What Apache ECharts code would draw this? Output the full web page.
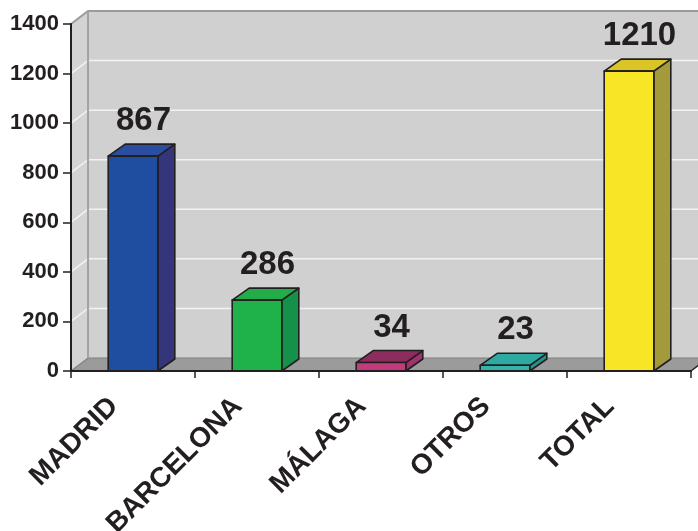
<!DOCTYPE html>
<html>
<head>
<meta charset="utf-8">
<script src="https://cdn.jsdelivr.net/npm/echarts@6/dist/echarts.min.js"></script>
<style>
html,body{margin:0;padding:0;background:#fff;}
#chart{width:698px;height:531px;}
</style>
</head>
<body>
<div id="chart"></div>
<script>
const categories = ['MADRID', 'BARCELONA', 'MÁLAGA', 'OTROS', 'TOTAL'];
const values = [867, 286, 34, 23, 1210];
const yTicks = [0, 200, 400, 600, 800, 1000, 1200, 1400];

const frontColors = ['#1f4d9f', '#1fb24b', '#c23b7c', '#35b3ab', '#f7e526'];
const topColors   = ['#2b4ea0', '#22ad48', '#8d2d5d', '#2eaaa2', '#d9c626'];
const sideColors  = ['#34357a', '#15924a', '#a0336a', '#23958d', '#a39a3c'];

const DX = 17, DY = -12, WDY = -13;
const FONT = '"Liberation Sans", Arial, Helvetica, sans-serif';
const INK = '#231f20';

const chart = echarts.init(document.getElementById('chart'));

function renderWalls(params, api) {
  const cs = params.coordSys;
  const x0 = cs.x, x1 = cs.x + cs.width;
  const yB = api.coord([0, yTicks[0]])[1];
  const yT = api.coord([0, yTicks[yTicks.length - 1]])[1];
  const children = [];
  children.push({type: 'rect', shape: {x: x0 + DX, y: yT + WDY, width: cs.width + 40, height: yB - yT},
    style: {fill: '#d0d0d0'}});
  children.push({type: 'polygon', shape: {points: [[x0, yB], [x0, yT], [x0 + DX, yT + WDY], [x0 + DX, yB + WDY]]},
    style: {fill: '#d3d3d3'}});
  for (let k = 1; k < yTicks.length - 1; k++) {
    const y = api.coord([0, yTicks[k]])[1];
    children.push({type: 'polyline', shape: {points: [[x0, y], [x0 + DX, y + WDY], [x1 + 60, y + WDY]]},
      style: {stroke: '#f2f2f2', lineWidth: 1.5, fill: null}});
  }
  children.push({type: 'polygon', shape: {points: [[x0, yB], [x1, yB], [x1 + DX, yB + WDY], [x0 + DX, yB + WDY]]},
    style: {fill: '#9b9b9b'}});
  children.push({type: 'polyline', shape: {points: [[x0, yB], [x0 + DX, yB + WDY], [x1 + 60, yB + WDY]]},
    style: {stroke: '#808080', lineWidth: 1.2, fill: null}});
  children.push({type: 'polyline', shape: {points: [[x0, yT], [x0 + DX, yT + WDY], [x1 + 60, yT + WDY]]},
    style: {stroke: '#9a9a9a', lineWidth: 2, fill: null}});
  children.push({type: 'line', shape: {x1: x0 + DX, y1: yT + WDY, x2: x0 + DX, y2: yB + WDY},
    style: {stroke: '#a3a3a3', lineWidth: 2}});
  children.push({type: 'line', shape: {x1: x1, y1: yB, x2: x1 + DX, y2: yB + WDY},
    style: {stroke: INK, lineWidth: 1.5}});
  return {type: 'group', children: children};
}

function renderBar(params, api) {
  const i = api.value(0), v = api.value(1);
  const top = api.coord([i, v]);
  const base = api.coord([i, 0]);
  const bw = api.size([1, 0])[0] * 0.4;
  const l = top[0] - bw / 2, r = top[0] + bw / 2;
  const t = top[1], b = base[1];
  const idx = params.dataIndex;
  const stroke = {stroke: INK, lineWidth: 1.6, lineJoin: 'round'};
  return {
    type: 'group',
    children: [
      {type: 'polygon', shape: {points: [[r, t], [r + DX, t + DY], [r + DX, b + DY], [r, b]]},
        style: Object.assign({fill: sideColors[idx]}, stroke)},
      {type: 'polygon', shape: {points: [[l, t], [r, t], [r + DX, t + DY], [l + DX, t + DY]]},
        style: Object.assign({fill: topColors[idx]}, stroke)},
      {type: 'rect', shape: {x: l, y: t, width: bw, height: b - t},
        style: Object.assign({fill: frontColors[idx]}, stroke)},
      {type: 'text', x: top[0] + DX / 2 + 2, y: t + DY - 23,
        style: {text: String(v), fill: INK, font: 'bold 33px ' + FONT, textAlign: 'center', textVerticalAlign: 'middle'}}
    ]
  };
}

chart.setOption({
  backgroundColor: '#ffffff',
  animation: false,
  grid: {left: 71, right: 7, top: 24, bottom: 160, containLabel: false, outerBoundsMode: 'none'},
  xAxis: {
    type: 'category',
    data: categories,
    z: 10,
    axisLine: {show: true, lineStyle: {color: INK, width: 2}},
    axisTick: {show: true, alignWithLabel: false, length: 7, lineStyle: {color: INK, width: 1.5}},
    axisLabel: {
      interval: 0, rotate: 45, margin: 12, padding: [0, 27, 0, 0],
      color: INK, fontSize: 28, fontWeight: 'bold', fontFamily: FONT
    },
    splitLine: {show: false}
  },
  yAxis: {
    type: 'value',
    min: yTicks[0], max: yTicks[yTicks.length - 1], interval: 200,
    z: 10,
    axisLine: {show: true, lineStyle: {color: INK, width: 2}},
    axisTick: {show: true, length: 8, lineStyle: {color: INK, width: 1.5}},
    axisLabel: {margin: 12, color: INK, fontSize: 22, fontWeight: 'bold', fontFamily: FONT,
      formatter: function (v) { return String(v); }},
    splitLine: {show: false}
  },
  series: [
    {type: 'custom', z: 1, clip: false, silent: true, renderItem: renderWalls, data: [[0, 0]], encode: {x: 0, y: 1}},
    {type: 'custom', z: 3, clip: false, renderItem: renderBar,
      data: values.map((v, i) => [i, v]), encode: {x: 0, y: 1}}
  ]
});
</script>
</body>
</html>
